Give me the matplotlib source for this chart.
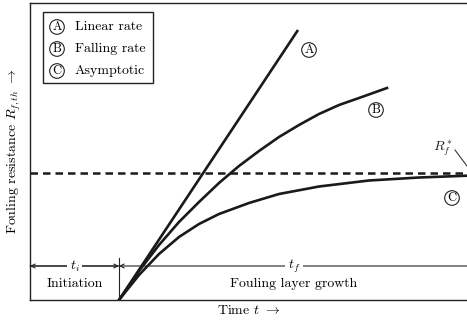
import matplotlib
matplotlib.use("Agg")
import matplotlib.pyplot as plt
from matplotlib.patches import Rectangle

plt.rcParams['font.family'] = 'serif'
plt.rcParams['font.serif'] = ['cmr10', 'DejaVu Serif']
plt.rcParams['mathtext.fontset'] = 'cm'
plt.rcParams['axes.unicode_minus'] = False

# ---- data (arbitrary units) ----
t_init = -89          # start of initiation period (left edge)
t_end = 348           # right edge of the time axis
R_max = 297           # top of the resistance axis
R_star = 127          # asymptotic fouling resistance

t_A = [0, 179]
R_A = [0, 270]

t_B = [0, 20, 40, 60, 80, 100, 120, 140, 160, 180, 200, 220, 240, 268]
R_B = [0, 29, 55, 78, 98, 117, 134, 149, 163, 175, 186, 195, 202, 212]

t_C = [0, 20, 40, 60, 80, 100, 130, 160, 200, 250, 300, 348]
R_C = [0, 25, 46, 63, 76, 86, 97, 106, 113.5, 119.5, 122.5, 124.3]

legend_letters = ['A', 'B', 'C']
legend_labels = ['Linear rate', 'Falling rate', 'Asymptotic']

W, H = 467, 321
fig = plt.figure(figsize=(W / 100, H / 100), dpi=100)
ax = fig.add_axes([30 / W, 21 / H, 437 / W, 297 / H])
ax.set_xlim(t_init, t_end)
ax.set_ylim(0, R_max)
ax.set_xticks([])
ax.set_yticks([])
for s in ['left', 'bottom', 'top']:
    ax.spines[s].set_color('#222222')
    ax.spines[s].set_linewidth(1.0)
ax.spines['right'].set_visible(False)

lc = '#1a1a1a'
ax.plot(t_A, R_A, color=lc, lw=1.9, solid_capstyle='butt')
ax.plot(t_B, R_B, color=lc, lw=1.9)
ax.plot(t_C, R_C, color=lc, lw=1.9)
ax.axhline(R_star, color=lc, lw=1.8, ls=(0, (3, 2)))

fs = 10
cfs = 9
circ = dict(boxstyle='circle,pad=0.1', fc='white', ec='#222222', lw=0.8)

# curve labels
ax.text(190, 250, 'A', ha='center', va='center', fontsize=cfs, bbox=circ)
ax.text(257, 190, 'B', ha='center', va='center', fontsize=cfs, bbox=circ)
ax.text(333, 102, 'C', ha='center', va='center', fontsize=cfs, bbox=circ)

# R_f^* label
ax.text(324, 152, r'$R_f^*$', ha='center', va='center', fontsize=fs, color='#222222')
ax.plot([336, 348], [150, 134], color='#222222', lw=0.7)

# time-period arrows
y_arr = 34
ap = dict(arrowstyle='->', lw=0.8, color='#222222', shrinkA=0, shrinkB=0, mutation_scale=7)
ax.annotate('', xy=(t_init, y_arr), xytext=(0, y_arr), arrowprops=ap)
ax.annotate('', xy=(0, y_arr), xytext=(t_init, y_arr), arrowprops=ap)
ax.annotate('', xy=(0, y_arr), xytext=(t_end, y_arr), arrowprops=ap)
ax.plot([0, 0], [0, 42], color='#222222', lw=0.8)
ax.text(t_init / 2, y_arr, r'$t_i$', ha='center', va='center', fontsize=fs,
        bbox=dict(fc='white', ec='none', pad=2))
ax.text(175, y_arr, r'$t_f$', ha='center', va='center', fontsize=fs,
        bbox=dict(fc='white', ec='none', pad=2))
ax.text(t_init / 2, 16, 'Initiation', ha='center', va='center', fontsize=fs)
ax.text(175, 16, 'Fouling layer growth', ha='center', va='center', fontsize=fs)

# legend box
def axf(px, py):
    return ((px - 30) / 437, (300 - py) / 297)

x0, y0 = axf(43, 83)
x1, y1 = axf(153, 12)
ax.add_patch(Rectangle((x0, y0), x1 - x0, y1 - y0, transform=ax.transAxes,
                       fc='white', ec='#222222', lw=1.0))
for py, letter, lab in zip([27, 49, 71], legend_letters, legend_labels):
    cx, cy = axf(57, py)
    ax.text(cx, cy, letter, transform=ax.transAxes, ha='center', va='center',
            fontsize=cfs, bbox=circ)
    tx, ty = axf(75, py)
    ax.text(tx, ty, lab, transform=ax.transAxes, ha='left', va='center', fontsize=fs)

ax.set_xlabel(r'Time $t$ $\rightarrow$', fontsize=fs, labelpad=3)
ax.set_ylabel(r'Fouling resistance $R_{f,th}$ $\rightarrow$', fontsize=fs, labelpad=5)

fig.savefig('out.png', dpi=100)
